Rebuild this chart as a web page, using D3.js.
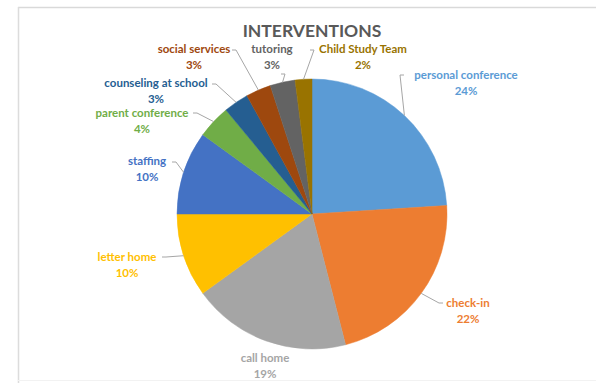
<!DOCTYPE html>
<html>
<head>
<meta charset="utf-8">
<script src="https://cdn.jsdelivr.net/npm/d3@7"></script>
<style>
	body { margin: 0; background: #fff; }
	text { font-family: Lato, "Open Sans", sans-serif; font-weight: bold; }
</style>
</head>
<body>
<div class="chart"></div>
<script>
var w = 596, h = 383;

// data
var categories = ['personal conference', 'check-in', 'call home', 'letter home', 'staffing',
	'parent conference', 'counseling at school', 'social services', 'tutoring', 'Child Study Team'];
var values = [24, 22, 19, 10, 10, 4, 3, 3, 3, 2];
var colors = ['#5b9bd5', '#ed7d31', '#a5a5a5', '#ffc000', '#4472c4',
	'#70ad47', '#255e91', '#9e480e', '#636363', '#997300'];

// label placement (text centre) and where the leader line leaves the label
var labelAt = [[466, 79], [468, 307], [265, 362], [127, 261], [147, 165],
	[142, 117], [156, 87], [194, 53], [272, 53], [363, 53]];
var leaderFrom = [[404, 75], [443, 303], null, [162, 257], [172, 162],
	[193, 113], [212, 84], [232, 50], [281, 74], [310, 50]];

var cx = 312, cy = 214, r = 135;

var svg = d3.select('.chart').append('svg')
	.attr('width', w)
	.attr('height', h);

// frame lines
svg.append('line').attr('x1', 18).attr('y1', 7.5).attr('x2', w).attr('y2', 7.5)
	.attr('stroke', '#d9d9d9').attr('stroke-width', 1.5);
svg.append('line').attr('x1', 18.5).attr('y1', 7).attr('x2', 18.5).attr('y2', h)
	.attr('stroke', '#dcdcdc').attr('stroke-width', 1.5);
svg.append('line').attr('x1', 18).attr('y1', 380.5).attr('x2', w).attr('y2', 380.5)
	.attr('stroke', '#f2f2f2');

svg.append('text')
	.attr('x', cx).attr('y', 37)
	.attr('text-anchor', 'middle')
	.attr('fill', '#595959')
	.style('font-size', '17.5px')
	.text('INTERVENTIONS');

var pie = d3.pie().sort(null).value(function(d) { return d; });
var arcs = pie(values);
var arc = d3.arc().innerRadius(0).outerRadius(r);
var edge = d3.arc().innerRadius(r).outerRadius(r);

var g = svg.append('g').attr('transform', 'translate(' + [cx, cy] + ')');

g.selectAll('path')
	.data(arcs)
	.enter()
	.append('path')
		.attr('d', arc)
		.attr('fill', function(d, i) { return colors[i]; })
		.attr('stroke', function(d, i) { return colors[i]; })
		.attr('stroke-width', 0.5);

// leader lines: short horizontal dash, then to the slice edge
svg.selectAll('path.leader')
	.data(arcs)
	.enter()
	.filter(function(d, i) { return leaderFrom[i]; })
	.append('path')
		.attr('class', 'leader')
		.attr('fill', 'none')
		.attr('stroke', '#a6a6a6')
		.attr('stroke-width', 1)
		.attr('d', function(d) {
			var i = d.index, s = leaderFrom[i], c = edge.centroid(d);
			var dir = s[0] < cx ? 4 : -4;
			return 'M' + s + 'L' + [s[0] + dir, s[1]] + 'L' + [cx + c[0], cy + c[1]];
		});

var labels = svg.selectAll('g.label')
	.data(arcs)
	.enter()
	.append('g')
		.attr('class', 'label')
		.attr('transform', function(d) { return 'translate(' + labelAt[d.index] + ')'; })
		.attr('fill', function(d) { return colors[d.index]; })
		.style('font-size', '11.5px')
		.attr('text-anchor', 'middle');

labels.append('text')
	.attr('y', 0)
	.text(function(d) { return categories[d.index]; });
labels.append('text')
	.attr('y', 16)
	.text(function(d) { return d.value + '%'; });
</script>
</body>
</html>
